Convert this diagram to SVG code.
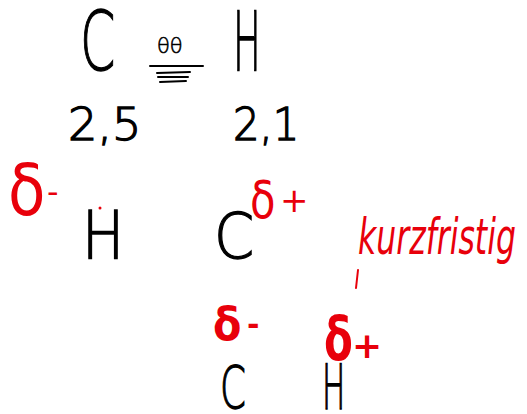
<svg xmlns="http://www.w3.org/2000/svg" width="527" height="414" viewBox="0 0 527 414">
<style>
.k{fill:#000;stroke:#000;stroke-width:1.3;font-family:"DejaVu Sans",sans-serif;font-weight:200}
.r{fill:#e8000b;font-family:"DejaVu Sans",sans-serif}
.rb{fill:#e8000b;font-family:"DejaVu Sans",sans-serif;font-weight:bold}
.ln{stroke:#000;stroke-width:2;fill:none;stroke-linecap:round}
.rl{stroke:#e8000b;stroke-width:2;fill:none;stroke-linecap:round}
</style>
<rect width="527" height="414" fill="#fff"/>
<g id="top-C"><text class="k" transform="translate(80,70) scale(0.62,1)" font-size="82">C</text></g>
<g id="bond"><text class="k" x="157" y="53" font-size="21" style="stroke-width:0.6">θθ</text>
<path class="ln" d="M150 66 L203 66 M157 73 L190 72 M158 77 L188 77 M160 82 L186 81"/></g>
<g id="top-H"><text class="k" transform="translate(233,70) scale(0.45,1)" font-size="82">H</text></g>
<g id="en-C"><text class="k" transform="translate(68,140) scale(1.05,1)" font-size="44">2,5</text></g>
<g id="en-H"><text class="k" transform="translate(233,140) scale(0.95,1)" font-size="44">2,1</text></g>
<g id="left-delta"><text class="r" transform="translate(8,215) scale(0.85,1)" font-size="72">δ</text><text class="r" x="47" y="203" font-size="32">-</text></g>
<g id="mid-H"><text class="k" transform="translate(82,258) scale(0.85,1)" font-size="66">H</text><circle cx="100" cy="208" r="1.5" fill="#e8000b"/></g>
<g id="mid-C"><text class="k" transform="translate(214,258) scale(0.93,1)" font-size="62">C</text></g>
<g id="mid-delta"><text class="r" transform="translate(250,218) scale(0.8,1)" font-size="52">δ</text><text class="r" x="280" y="212" font-size="34">+</text></g>
<g id="note"><text class="r" transform="translate(358,254) scale(0.63,1)" font-size="50" font-style="italic">kurzfristig</text>
<path class="rl" d="M358 270 L356 288"/></g>
<g id="bot-delta-minus"><text class="rb" transform="translate(213,340) scale(0.9,1)" font-size="46">δ</text><text class="rb" x="247" y="335" font-size="30">-</text></g>
<g id="bot-delta-plus"><text class="rb" transform="translate(324,360) scale(0.7,1)" font-size="60">δ</text><text class="rb" x="352" y="358" font-size="36">+</text></g>
<g id="bot-C"><text class="k" transform="translate(220,408) scale(0.63,1)" font-size="59">C</text></g>
<g id="bot-H"><text class="k" transform="translate(322,409) scale(0.5,1)" font-size="62">H</text></g>
<g id="connectors"></g>
</svg>
